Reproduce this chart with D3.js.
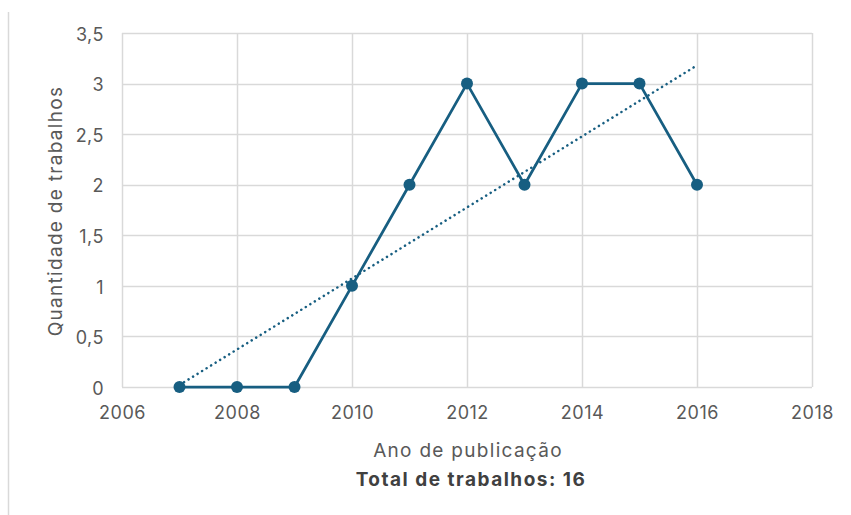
<!DOCTYPE html>
<html>
<head>
<meta charset="utf-8">
<script src="https://cdn.jsdelivr.net/npm/d3@7"></script>
<style>
  html, body { margin: 0; padding: 0; background: #fff; }
  svg { display: block; }
</style>
</head>
<body>
<svg id="chart"></svg>
<script>
// data
const years = [2007, 2008, 2009, 2010, 2011, 2012, 2013, 2014, 2015, 2016];
const counts = [0, 0, 0, 1, 2, 3, 2, 3, 3, 2];
// linear trendline endpoints (as drawn in the original)
const trendYears = [2007, 2016];
const trendValues = [0.02, 3.18];
const xTicks = [2006, 2008, 2010, 2012, 2014, 2016, 2018];
const yTicks = [0, 0.5, 1, 1.5, 2, 2.5, 3, 3.5];

const width = 851;
const height = 515;
const margin = { top: 33, right: 39, bottom: 128, left: 122 };
const color = '#175e81';
const grid = '#d9d9d9';
const textColor = '#595959';
const font = 'Inter, Roboto, sans-serif';

const svg = d3.select('#chart')
  .attr('width', width)
  .attr('height', height)
  .attr('viewBox', [0, 0, width, height]);

const x = d3.scaleLinear()
  .domain([2006, 2018])
  .range([margin.left, width - margin.right]);

const y = d3.scaleLinear()
  .domain([0, 3.5])
  .range([height - margin.bottom, margin.top]);

const fmt = d => String(d).replace('.', ',');

// left frame line
svg.append('line')
  .attr('x1', 8.5).attr('x2', 8.5)
  .attr('y1', 12).attr('y2', height)
  .attr('stroke', grid)
  .attr('stroke-width', 1.5);

// gridlines
svg.append('g')
  .selectAll('line')
  .data(yTicks)
  .join('line')
  .attr('x1', x(2006)).attr('x2', x(2018))
  .attr('y1', d => Math.round(y(d)) + 0.5)
  .attr('y2', d => Math.round(y(d)) + 0.5)
  .attr('stroke', grid)
  .attr('stroke-width', 1.5);

svg.append('g')
  .selectAll('line')
  .data(xTicks)
  .join('line')
  .attr('x1', d => Math.round(x(d)) + 0.5)
  .attr('x2', d => Math.round(x(d)) + 0.5)
  .attr('y1', y(0)).attr('y2', y(3.5))
  .attr('stroke', grid)
  .attr('stroke-width', 1.5);

// axes (labels only, Excel style)
const yAxis = g => g
  .attr('transform', `translate(${margin.left - 15},1.5)`)
  .call(d3.axisLeft(y).tickValues(yTicks).tickFormat(fmt).tickSize(0))
  .call(g => g.select('.domain').remove());

const xAxis = g => g
  .attr('transform', `translate(0,${height - margin.bottom + 16})`)
  .call(d3.axisBottom(x).tickValues(xTicks).tickFormat(d3.format('d')).tickSize(0))
  .call(g => g.select('.domain').remove());

svg.append('g').call(yAxis);
svg.append('g').call(xAxis);

svg.selectAll('.tick text')
  .attr('fill', textColor)
  .attr('font-family', font)
  .attr('font-size', 18)
  .attr('letter-spacing', 0.5);

// trendline
svg.append('path')
  .datum(trendYears.map((d, i) => [d, trendValues[i]]))
  .attr('fill', 'none')
  .attr('stroke', color)
  .attr('stroke-width', 2.5)
  .attr('stroke-linecap', 'round')
  .attr('stroke-dasharray', '0.1 5.2')
  .attr('d', d3.line()
    .x(d => x(d[0]))
    .y(d => y(d[1])));

// series line
const series = years.map((d, i) => ({ year: d, value: counts[i] }));

svg.append('path')
  .datum(series)
  .attr('fill', 'none')
  .attr('stroke', color)
  .attr('stroke-width', 2.75)
  .attr('stroke-linejoin', 'round')
  .attr('d', d3.line()
    .x(d => x(d.year))
    .y(d => y(d.value)));

svg.append('g')
  .selectAll('circle')
  .data(series)
  .join('circle')
  .attr('cx', d => x(d.year))
  .attr('cy', d => y(d.value))
  .attr('r', 6)
  .attr('fill', color);

// axis titles
svg.append('text')
  .attr('transform', `translate(55,${(y(0) + y(3.5)) / 2 + 1}) rotate(-90)`)
  .attr('text-anchor', 'middle')
  .attr('dominant-baseline', 'central')
  .attr('fill', textColor)
  .attr('font-family', font)
  .attr('font-size', 19)
  .attr('letter-spacing', 1.3)
  .text('Quantidade de trabalhos');

svg.append('text')
  .attr('x', 468)
  .attr('y', 456.5)
  .attr('text-anchor', 'middle')
  .attr('fill', textColor)
  .attr('font-family', font)
  .attr('font-size', 19)
  .attr('letter-spacing', 1.3)
  .text('Ano de publicação');

svg.append('text')
  .attr('x', 471)
  .attr('y', 485.5)
  .attr('text-anchor', 'middle')
  .attr('fill', '#404040')
  .attr('font-family', font)
  .attr('font-weight', 'bold')
  .attr('font-size', 19)
  .attr('letter-spacing', 1.5)
  .text('Total de trabalhos: 16');
</script>
</body>
</html>
